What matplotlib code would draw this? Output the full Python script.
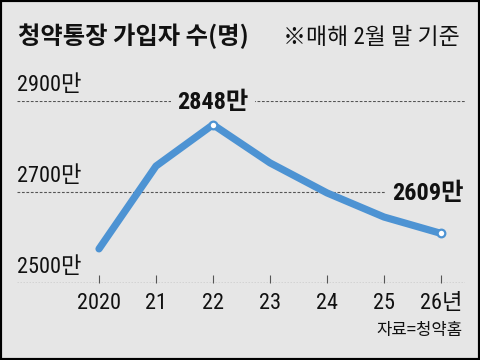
import matplotlib
matplotlib.use("Agg")
import matplotlib.pyplot as plt
import matplotlib.transforms as mtransforms
from matplotlib import font_manager
from matplotlib.patches import Rectangle

years = ["2020", "21", "22", "23", "24", "25", "26년"]
values = [2575, 2757, 2848, 2764, 2698, 2645, 2609]
ytick_values = [2500, 2700, 2900]
ytick_labels = ["2500만", "2700만", "2900만"]
title = "청약통장 가입자 수(명)"
subtitle = "※매해 2월 말 기준"
source = "자료=청약홈"
peak_label = "2848만"
last_label = "2609만"


def available(name):
    try:
        font_manager.findfont(font_manager.FontProperties(family=name),
                              fallback_to_default=False)
        return True
    except Exception:
        return False


narrow = "Roboto"
for cand in ["Liberation Sans Narrow", "Roboto Condensed", "Open Sans Condensed"]:
    if available(cand):
        narrow = cand
        break

NUM = [narrow, "Noto Sans CJK KR", "DejaVu Sans"]
KR = ["Noto Sans CJK KR", "DejaVu Sans"]
plt.rcParams['font.family'] = NUM

W, H = 480, 360
bg = "#e6e6e6"
blue = "#4d93d3"
fig = plt.figure(figsize=(W / 100, H / 100), dpi=100, facecolor=bg)

x0, x1 = 17, 465
y_bot, y_top = 283, 101
ax = fig.add_axes([x0 / W, (H - y_bot) / H, (x1 - x0) / W, (y_bot - y_top) / H])
ax.set_facecolor(bg)
for s in ax.spines.values():
    s.set_visible(False)

xs = list(range(len(years)))
ax.set_xlim((x0 - 99) / 57.0, (x1 - 99) / 57.0)
ax.set_ylim(2500, 2900)

for v in ytick_values[1:]:
    ax.axhline(v, color="#555555", lw=0.8, ls=(0, (2.5, 1.5)), zorder=1)
ax.axhline(2500, color="#555555", lw=0.9, ls=(0, (1.2, 1.2)), zorder=1)

trans = mtransforms.blended_transform_factory(ax.transAxes, ax.transData)
for v, lab in zip(ytick_values, ytick_labels):
    ax.text(0, v + 12, lab, transform=trans, ha="left", va="bottom",
            fontsize=16, color="#111111", family=NUM)

ax.plot(xs, values, color=blue, lw=5.2, solid_capstyle="round",
        solid_joinstyle="round", zorder=3, clip_on=False)
for i in (2, 6):
    ax.plot(xs[i], values[i], "o", ms=5.5, mfc="white", mec=blue, mew=1.6,
            zorder=4, clip_on=False)

ax.text(xs[2], 2897, peak_label, ha="center", va="center",
        fontsize=17.5, fontweight="bold", family=NUM, color="#111111",
        bbox=dict(boxstyle="square,pad=0.25", fc=bg, ec="none"), zorder=2)
ax.text(xs[6] + 0.39, 2697, last_label, ha="right", va="center",
        fontsize=17.5, fontweight="bold", family=NUM, color="#111111",
        bbox=dict(boxstyle="square,pad=0.25", fc=bg, ec="none"), zorder=2)

ax.set_xticks(xs)
ax.set_xticklabels(years, family=NUM, fontsize=16, color="#111111")
ax.set_yticks([])
ax.tick_params(axis="x", direction="in", length=6, width=0.8,
               color="#555555", pad=7)

fig.text(18 / W, 1 - 36 / H, title, fontsize=17.5, fontweight="bold",
         family=KR, va="center", ha="left", color="#111111")
fig.text(283 / W, 1 - 37 / H, subtitle, fontsize=16.5, family=NUM,
         va="center", ha="left", color="#111111")
fig.text(463 / W, 1 - 330 / H, source, fontsize=12, family=KR,
         va="center", ha="right", color="#111111")

fig.patches.append(Rectangle((0, 0), 1, 1, transform=fig.transFigure,
                             fill=False, ec="black", lw=3.0))

fig.savefig("out.png", dpi=100, facecolor=bg)
